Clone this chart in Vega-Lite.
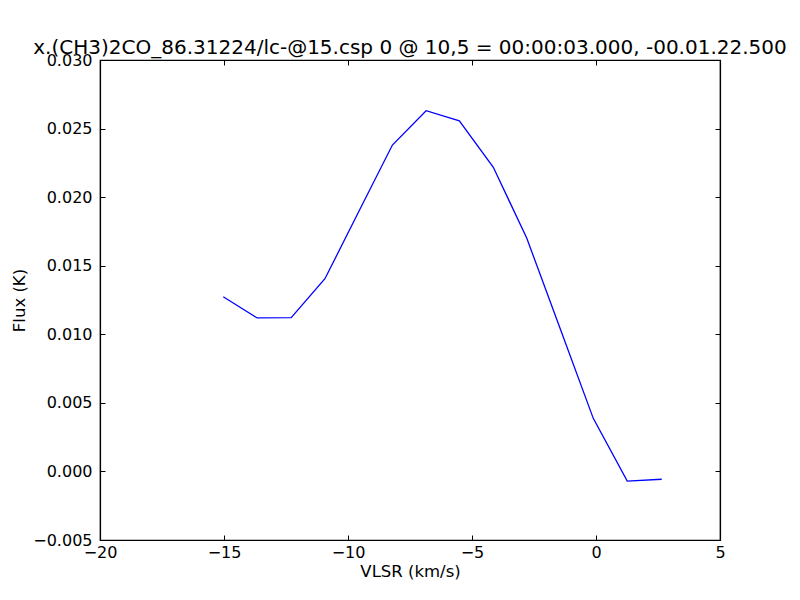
{
  "$schema": "https://vega.github.io/schema/vega-lite/v6.json",
  "width": 620,
  "height": 480,
  "autosize": {"type": "none"},
  "padding": {"left": 100, "top": 60, "right": 80, "bottom": 60},
  "background": "white",
  "title": {
    "text": "x.(CH3)2CO_86.31224/lc-@15.csp 0 @ 10,5 = 00:00:03.000, -00.01.22.500",
    "font": "DejaVu Sans",
    "fontSize": 20,
    "fontWeight": "normal",
    "color": "black",
    "anchor": "middle",
    "frame": "group",
    "baseline": "alphabetic",
    "offset": 7,
    "dy": 29
  },
  "config": {
    "view": {"stroke": "black", "strokeWidth": 1.2},
    "axis": {
      "grid": false,
      "domainColor": "black",
      "domainWidth": 1.2,
      "tickColor": "black",
      "tickWidth": 1,
      "tickSize": -5,
      "labelFont": "DejaVu Sans",
      "labelFontSize": 16,
      "labelColor": "black",
      "labelFlush": false,
      "labelOverlap": false,
      "titleFont": "DejaVu Sans",
      "titleFontSize": 16.5,
      "titleFontWeight": "normal",
      "titleColor": "black"
    }
  },
  "data": {
    "values": [
      {"v": -15.03, "flux": 0.01274},
      {"v": -13.66, "flux": 0.01119},
      {"v": -12.29, "flux": 0.01121},
      {"v": -10.93, "flux": 0.01405},
      {"v": -9.57, "flux": 0.01893},
      {"v": -8.21, "flux": 0.0238},
      {"v": -6.85, "flux": 0.0263},
      {"v": -5.51, "flux": 0.02557},
      {"v": -4.14, "flux": 0.02218},
      {"v": -2.79, "flux": 0.017},
      {"v": -1.45, "flux": 0.01044},
      {"v": -0.11, "flux": 0.00387},
      {"v": 1.26, "flux": -0.0007},
      {"v": 2.65, "flux": -0.00057}
    ]
  },
  "layer": [
    {
      "mark": {"type": "line", "color": "#0000ff", "strokeWidth": 1.3},
      "encoding": {
        "x": {
          "field": "v",
          "type": "quantitative",
          "scale": {"domain": [-20, 5], "nice": false, "zero": false},
          "axis": {
            "orient": "bottom",
            "title": "VLSR (km/s)",
            "values": [-20, -15, -10, -5, 0, 5],
            "format": "d",
            "labelPadding": 9,
            "titlePadding": 3
          }
        },
        "y": {
          "field": "flux",
          "type": "quantitative",
          "scale": {"domain": [-0.005, 0.03], "nice": false, "zero": false},
          "axis": {
            "orient": "left",
            "title": "Flux (K)",
            "values": [-0.005, 0, 0.005, 0.01, 0.015, 0.02, 0.025, 0.03],
            "format": ".3f",
            "labelPadding": 13,
            "titlePadding": 5
          }
        }
      }
    },
    {
      "mark": {"type": "line", "opacity": 0},
      "encoding": {
        "x": {
          "field": "v",
          "type": "quantitative",
          "scale": {"domain": [-20, 5], "nice": false, "zero": false},
          "axis": {
            "orient": "top",
            "title": null,
            "labels": false,
            "values": [-20, -15, -10, -5, 0, 5]
          }
        },
        "y": {
          "field": "flux",
          "type": "quantitative",
          "scale": {"domain": [-0.005, 0.03], "nice": false, "zero": false},
          "axis": {
            "orient": "right",
            "title": null,
            "labels": false,
            "values": [-0.005, 0, 0.005, 0.01, 0.015, 0.02, 0.025, 0.03]
          }
        }
      }
    }
  ],
  "resolve": {"axis": {"x": "independent", "y": "independent"}}
}
